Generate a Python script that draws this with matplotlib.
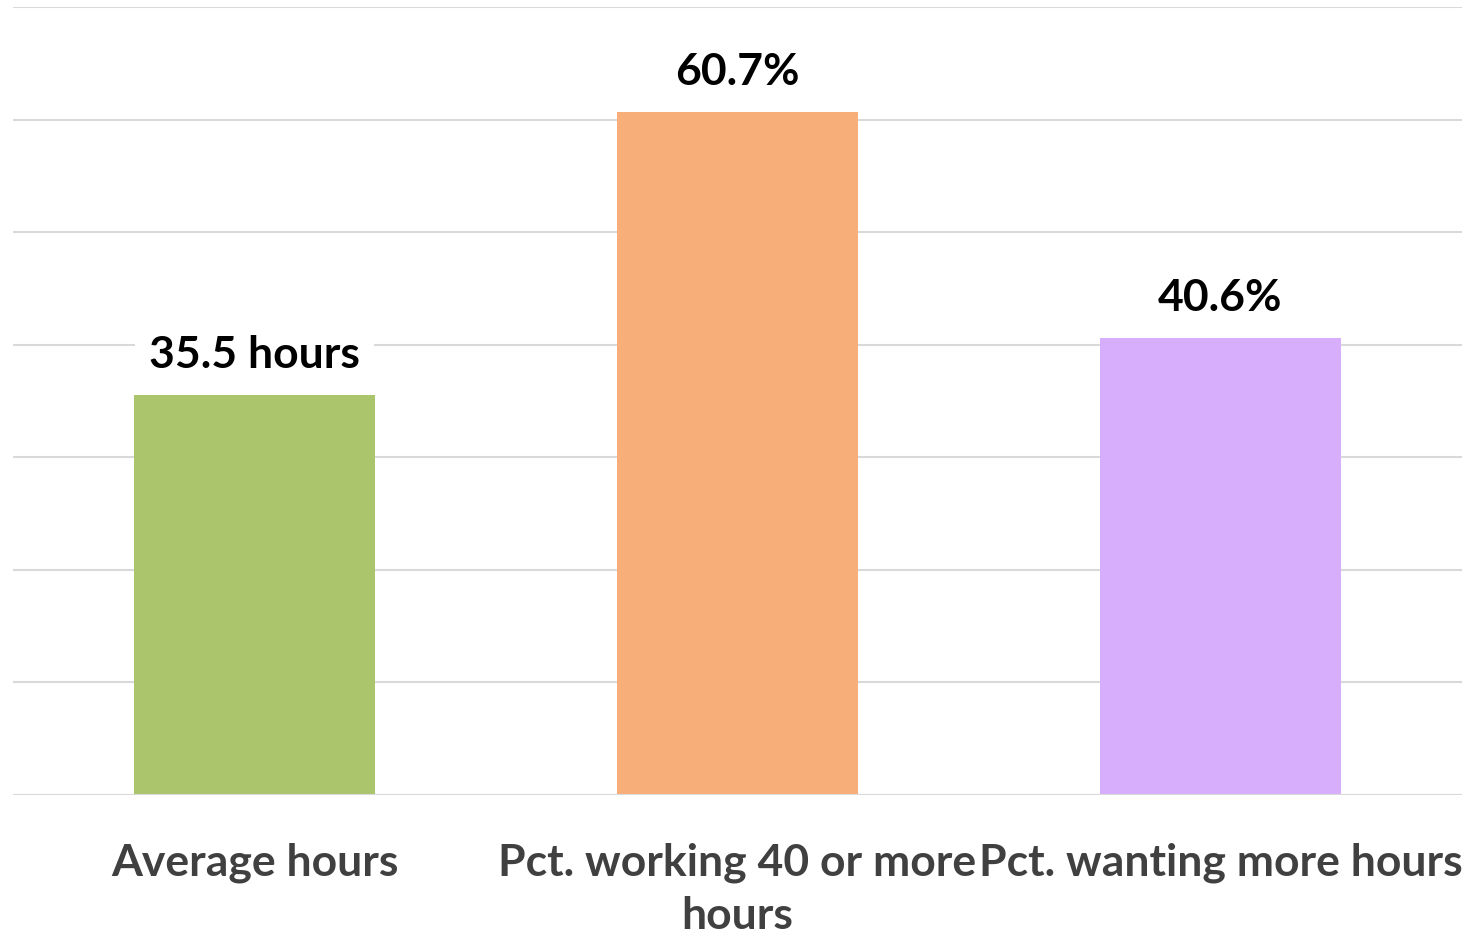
import matplotlib
matplotlib.use("Agg")
import matplotlib.pyplot as plt

plt.rcParams['font.family'] = ['Lato', 'DejaVu Sans']

categories = ["Average hours", "Pct. working 40 or more\nhours", "Pct. wanting more hours"]
values = [35.5, 60.7, 40.6]
value_labels = ["35.5 hours", "60.7%", "40.6%"]
colors = ["#abc56d", "#f8ae79", "#d7aefc"]

fig = plt.figure(figsize=(14.74, 9.37), dpi=100)
ax = fig.add_axes([13 / 1474, 1 - 796 / 937, 1449 / 1474, 788 / 937])

x = range(len(categories))
ax.bar(x, values, width=0.497, color=colors, zorder=2)

ax.set_xlim(-0.5, 2.5)
ax.set_ylim(0, 70)
ax.set_yticks(range(0, 71, 10))
ax.yaxis.grid(True, color="#d9d9d9", linewidth=1.5, zorder=0)
ax.tick_params(left=False, bottom=False, labelleft=False, labelbottom=False)
for s in ax.spines.values():
    s.set_visible(False)
ax.axhline(0, color="#d9d9d9", linewidth=1.5, zorder=3)

# value labels above bars, white box cuts through the grid
for i, (v, lab) in enumerate(zip(values, value_labels)):
    ax.text(i, v + 2.5, lab, ha="center", va="baseline", fontsize=32, fontweight="bold",
            color="black", zorder=4,
            bbox=dict(facecolor="white", edgecolor="none", pad=10))

# category names under the axis
for i, cat in enumerate(categories):
    ax.text(i, -4.1, cat, ha="center", va="top", fontsize=32, fontweight="bold",
            color="#404040", linespacing=1.4, clip_on=False)

fig.savefig("out.png", dpi=100)
